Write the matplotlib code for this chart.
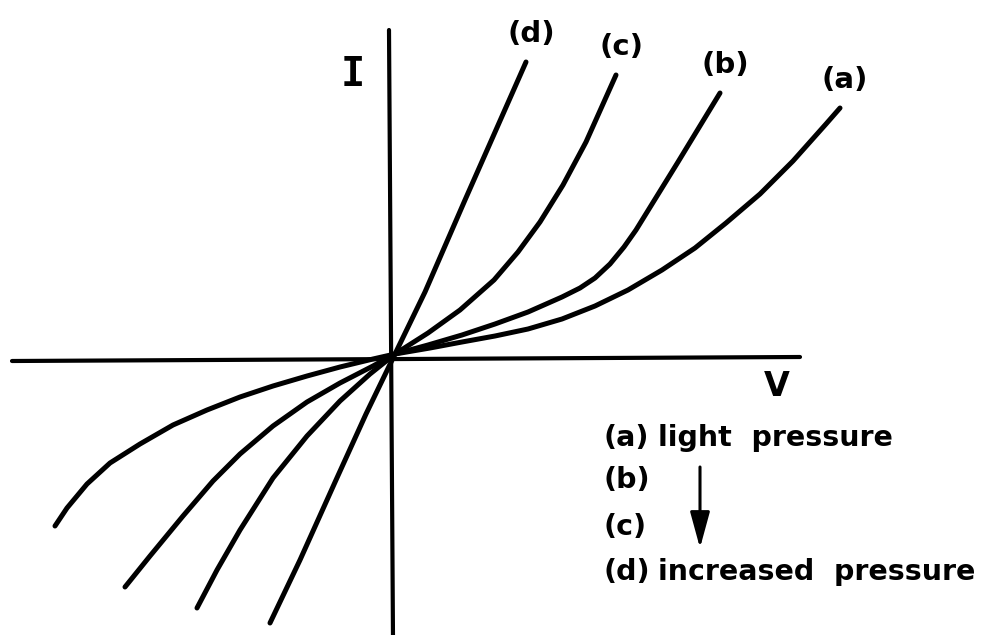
import matplotlib
matplotlib.use("Agg")
import matplotlib.pyplot as plt

# I-V characteristics under increasing contact pressure (arbitrary units)
V_a = [-340, -328, -308, -285, -255, -222, -188, -155, -122, -88, -55, -22, 0,
       35, 67, 100, 133, 167, 200, 233, 267, 300, 331, 365, 398, 431, 445]
I_a = [-172, -154, -130, -109, -90, -71, -56, -43, -32, -22, -13, -5, 0,
       6, 12, 18, 25, 35, 48, 64, 84, 106, 131, 160, 193, 230, 246]

V_b = [-270, -245, -212, -182, -155, -122, -88, -55, -22, 0,
       33, 67, 100, 133, 167, 185, 200, 215, 229, 241, 283, 325]
I_b = [-233, -202, -162, -127, -100, -72, -48, -29, -12, 0,
       9, 19, 30, 42, 57, 66, 76, 90, 107, 124, 192, 261]

V_c = [-198, -178, -155, -122, -88, -55, -25, 0, 33, 65, 99, 123, 145, 168, 191, 221]
I_c = [-254, -216, -176, -124, -82, -47, -20, 0, 21, 44, 74, 102, 132, 169, 212, 279]

V_d = [-125, -95, -59, -29, 0, 30, 70, 131]
I_d = [-269, -206, -126, -60, 0, 62, 154, 292]

curve_names = ["(a)", "(b)", "(c)", "(d)"]
legend_lines = ["(a)", "(b)", "(c)", "(d)"]
legend_words = {"(a)": "light  pressure", "(d)": "increased  pressure"}

fig = plt.figure(figsize=(9.94, 6.35), dpi=100)
ax = fig.add_axes([0, 0, 1, 1])
ax.set_xlim(-395, 599)
ax.set_ylim(-281, 354)
ax.axis("off")

lw = 3.6
# coordinate axes
ax.plot([-383, 405], [-7, -3], color="black", lw=3.0, solid_capstyle="round")
ax.plot([-6, -2], [324, -285], color="black", lw=3.0, solid_capstyle="round")

curves = [(V_a, I_a), (V_b, I_b), (V_c, I_c), (V_d, I_d)]
for V, I in curves:
    ax.plot(V, I, color="black", lw=lw, solid_capstyle="round",
            solid_joinstyle="round")

font = dict(family="DejaVu Sans", weight="bold", color="black")

# curve labels just above the upper ends
for name, (V, I) in zip(curve_names, curves):
    ax.annotate(name, (V[-1], I[-1]), xytext=(5, 28), textcoords="offset pixels",
                ha="center", va="center", fontsize=21, **font)

ax.text(-42, 279, "I", fontsize=29, ha="center", va="center",
        family="DejaVu Sans Mono", weight="bold")
ax.text(382, -33, "V", fontsize=24, ha="center", va="center", **font)

# pressure legend
ys = [-84, -126, -173, -218]
for name, y in zip(legend_lines, ys):
    ax.text(208, y, name, fontsize=20.5, ha="left", va="center", **font)
    if name in legend_words:
        ax.text(263, y, legend_words[name], fontsize=20.5, ha="left",
                va="center", **font)

ax.annotate("", xy=(305, -194), xytext=(305, -113),
            arrowprops=dict(arrowstyle="-|>,head_length=1.1,head_width=0.3",
                            mutation_scale=20, lw=2.2, color="black",
                            shrinkA=0, shrinkB=0))

fig.savefig("out.png", dpi=100)
